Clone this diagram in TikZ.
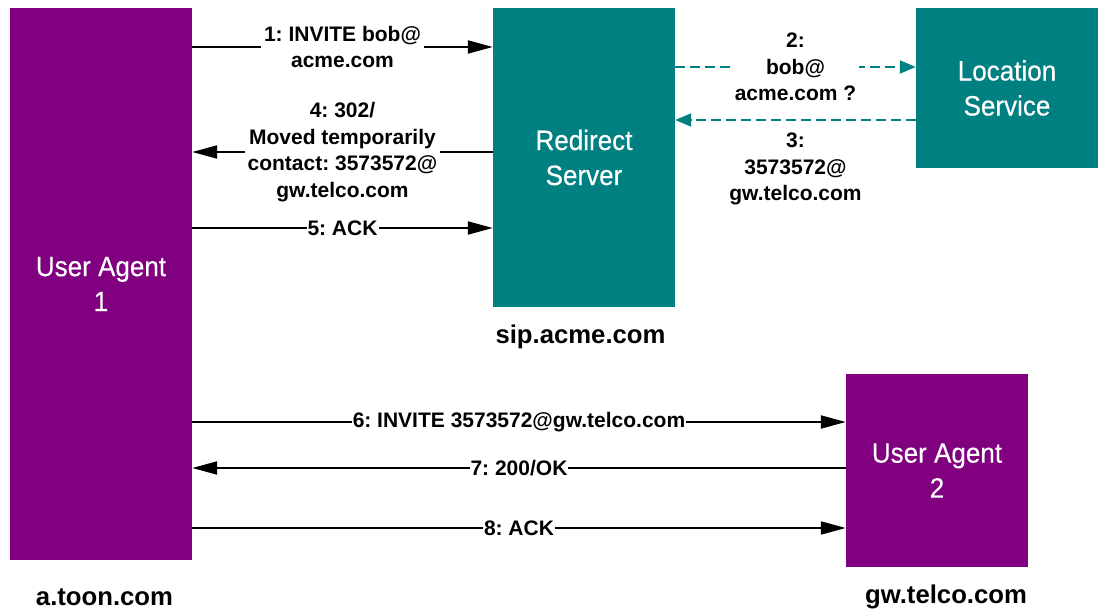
\documentclass[tikz,border=0pt]{standalone}
\usepackage{fontspec}
\setmainfont{Liberation Sans}
\newfontfamily\boxfont[FakeStretch=0.93,FakeBold=0.3]{Liberation Sans}
\usetikzlibrary{arrows.meta}
\definecolor{uapurple}{HTML}{800080}
\definecolor{srvteal}{HTML}{008080}
\frenchspacing
\tikzset{
  ent/.style={draw=none, inner sep=0pt, align=center, text=white,
    font=\boxfont\fontsize{28}{35}\selectfont},
  uabox/.style={ent, fill=uapurple},
  srvbox/.style={ent, fill=srvteal},
  msg/.style={line width=2pt, -{Triangle[length=25pt,width=13pt]}},
  qry/.style={line width=2pt, srvteal, dash pattern=on 10pt off 5pt,
    -{Triangle[length=16pt,width=13pt]}},
  lbl/.style={fill=white, inner sep=3pt, align=center, text=black,
    font=\frenchspacing\bfseries\fontsize{21}{26.5}\selectfont},
  host/.style={inner sep=0pt, font=\bfseries\fontsize{25.7}{30}\selectfont}
}
\begin{document}
\begin{tikzpicture}[x=1pt,y=-1pt]
\useasboundingbox (0,0) rectangle (1098,609);
\node[uabox, minimum width=182pt, minimum height=552pt] (ua1) at (101,284) {User Agent\\1};
\node[srvbox, minimum width=182pt, minimum height=299pt] (rs) at (584,157.5) {Redirect\\Server};
\node[srvbox, minimum width=182pt, minimum height=160pt] (ls) at (1007,88) {Location\\Service};
\node[uabox, minimum width=182pt, minimum height=193pt] (ua2) at (937,470.5) {User Agent\\2};

\node[host] (h1) at (580.5,337) {sip.acme.com};
\node[host] (h2) at (104.5,597) {a.toon.com};
\node[host] (h3) at (946,597) {gw.telco.com};

\coordinate (y1) at (0,47);
\coordinate (y2) at (0,67);
\coordinate (y3) at (0,120);
\coordinate (y4) at (0,152);
\coordinate (y5) at (0,228);
\coordinate (y6) at (0,422);
\coordinate (y7) at (0,468);
\coordinate (y8) at (0,528);

\draw[msg] (ua1.east |- y1) -- node[lbl] {1: INVITE bob@\\acme.com} (rs.west |- y1);
\draw[qry] (rs.east |- y2) -- node[lbl] {2:\\bob@\\acme.com ?} (ls.west |- y2);
\draw[qry] (ls.west |- y3) -- node[lbl, anchor=north, yshift=-9pt] {3:\\3573572@\\gw.telco.com} (rs.east |- y3);
\draw[msg] (rs.west |- y4) -- node[lbl] {4: 302/\\Moved temporarily\\contact: 3573572@\\gw.telco.com} (ua1.east |- y4);
\draw[msg] (ua1.east |- y5) -- node[lbl, inner sep=1pt] {5: ACK} (rs.west |- y5);
\draw[msg] (ua1.east |- y6) -- node[lbl, inner sep=1pt] {6: INVITE 3573572@gw.telco.com} (ua2.west |- y6);
\draw[msg] (ua2.west |- y7) -- node[lbl, inner sep=1pt] {7: 200/OK} (ua1.east |- y7);
\draw[msg] (ua1.east |- y8) -- node[lbl, inner sep=1pt] {8: ACK} (ua2.west |- y8);
\end{tikzpicture}
\end{document}
